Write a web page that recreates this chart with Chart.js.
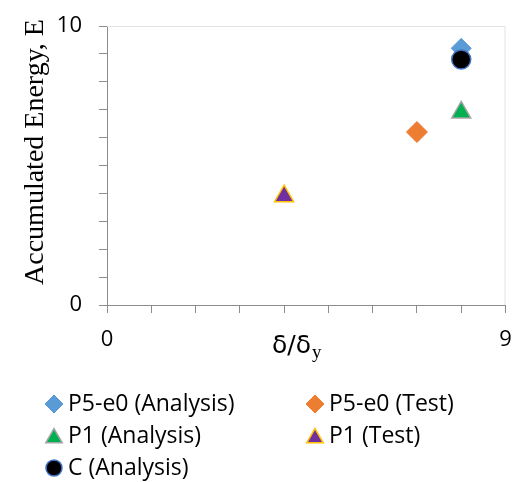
<!DOCTYPE html>
<html>
<head>
    <title>Accumulated Energy</title>
    <style>
        body {
            margin: 0;
            background-color: #ffffff;
        }
        #chartBox {
            width: 518px;
            height: 482px;
        }
    </style>
    <script src="https://cdn.jsdelivr.net/npm/chart.js"></script>
</head>
<body>
    <div id="chartBox">
        <canvas id="energyChart" width="518" height="482"></canvas>
    </div>
    <script>
        // values
        const seriesLabels = ['P5-e0 (Analysis)', 'P5-e0 (Test)', 'P1 (Analysis)', 'P1 (Test)', 'C (Analysis)'];
        const seriesX = [8, 7, 8, 4, 8];
        const seriesY = [9.2, 6.2, 6.9, 3.9, 8.8];
        const xTickLabels = [0, 9];
        const yTickLabels = [0, 10];

        const markerStyles = [
            { pointStyle: 'rectRot', radius: 10, fill: '#5B9BD5', line: '#5B9BD5', width: 1, legendRadius: 9 },
            { pointStyle: 'rectRot', radius: 10.5, fill: '#ED7D31', line: '#ED7D31', width: 1, legendRadius: 9 },
            { pointStyle: 'triangle', radius: 11, fill: '#00B050', line: '#A5A5A5', width: 1.5, legendRadius: 9.5 },
            { pointStyle: 'triangle', radius: 11, fill: '#7030A0', line: '#FFC000', width: 1.5, legendRadius: 9.5 },
            { pointStyle: 'circle', radius: 9.5, fill: '#000000', line: '#4472C4', width: 1.5, legendRadius: 8 }
        ];

        const datasets = seriesLabels.map(function (name, i) {
            const m = markerStyles[i];
            return {
                label: name,
                data: [{ x: seriesX[i], y: seriesY[i] }],
                pointStyle: m.pointStyle,
                pointRadius: m.radius,
                pointBackgroundColor: m.fill,
                pointBorderColor: m.line,
                pointBorderWidth: m.width,
                showLine: false,
                order: name === 'C (Analysis)' ? -1 : 0
            };
        });

        // keep the plot box where the layout padding puts it
        function noLabelPadding(scale) {
            scale.paddingTop = 0;
            scale.paddingBottom = 0;
            scale.paddingLeft = 0;
            scale.paddingRight = 0;
        }

        // titles, faint frame and two-column legend
        const extras = {
            id: 'extras',
            afterDraw(chart) {
                const ctx = chart.ctx;
                const area = chart.chartArea;
                ctx.save();

                ctx.strokeStyle = '#e3e3e3';
                ctx.lineWidth = 1;
                ctx.beginPath();
                ctx.moveTo(area.left, area.top + 0.5);
                ctx.lineTo(area.right - 0.5, area.top + 0.5);
                ctx.lineTo(area.right - 0.5, area.bottom);
                ctx.stroke();

                // y title
                ctx.fillStyle = '#000';
                ctx.save();
                ctx.translate(43, 152);
                ctx.rotate(-Math.PI / 2);
                ctx.font = '28px "Liberation Serif"';
                ctx.textAlign = 'center';
                ctx.textBaseline = 'alphabetic';
                ctx.fillText('Accumulated Energy, E', 0, 0);
                ctx.restore();

                // x title with subscript
                ctx.textAlign = 'left';
                ctx.textBaseline = 'alphabetic';
                ctx.font = '25px "DejaVu Sans"';
                ctx.fillText('δ/δ', 272, 353);
                const w = ctx.measureText('δ/δ').width;
                ctx.font = '19px "Liberation Serif"';
                ctx.fillText('y', 272 + w + 1, 358);

                // legend
                const colX = [54, 315];
                const rowY = [404, 436, 468];
                ctx.font = '23px "Open Sans"';
                ctx.textBaseline = 'middle';
                seriesLabels.forEach(function (name, i) {
                    const m = markerStyles[i];
                    const x = colX[i % 2];
                    const y = rowY[Math.floor(i / 2)];
                    ctx.fillStyle = m.fill;
                    ctx.strokeStyle = m.line;
                    ctx.lineWidth = m.width;
                    Chart.helpers.drawPoint(ctx, {
                        pointStyle: m.pointStyle,
                        radius: m.legendRadius,
                        rotation: 0,
                        borderWidth: m.width
                    }, x, m.pointStyle === 'triangle' ? y + 2 : y);
                    ctx.fillStyle = '#000';
                    ctx.fillText(name, x + 14, y);
                });
                ctx.restore();
            }
        };

        const ctx = document.getElementById('energyChart').getContext('2d');
        new Chart(ctx, {
            type: 'scatter',
            data: { datasets: datasets },
            options: {
                responsive: false,
                animation: false,
                layout: { padding: { top: 26, right: 10, bottom: 0, left: 0 } },
                plugins: {
                    legend: { display: false },
                    tooltip: { enabled: false }
                },
                scales: {
                    x: {
                        type: 'linear',
                        min: 0,
                        max: 9,
                        afterFit: function (scale) {
                            scale.height = 177;
                            noLabelPadding(scale);
                        },
                        border: { color: '#8c8c8c', width: 1 },
                        grid: { drawOnChartArea: false, drawTicks: true, tickLength: 8, color: '#8c8c8c' },
                        ticks: {
                            stepSize: 1,
                            padding: 14,
                            color: '#000',
                            font: { family: 'Open Sans', size: 22 },
                            maxRotation: 0,
                            autoSkip: false,
                            callback: function (v) { return xTickLabels.includes(v) ? String(v) : ''; }
                        }
                    },
                    y: {
                        type: 'linear',
                        min: 0,
                        max: 10,
                        afterFit: function (scale) {
                            scale.width = 107;
                            noLabelPadding(scale);
                        },
                        border: { color: '#8c8c8c', width: 1 },
                        grid: { drawOnChartArea: false, drawTicks: true, tickLength: 8, color: '#8c8c8c' },
                        ticks: {
                            stepSize: 1,
                            padding: 17,
                            color: '#000',
                            font: { family: 'Open Sans', size: 22 },
                            autoSkip: false,
                            callback: function (v) { return yTickLabels.includes(v) ? String(v) : ''; }
                        }
                    }
                }
            },
            plugins: [extras]
        });
    </script>
</body>
</html>
